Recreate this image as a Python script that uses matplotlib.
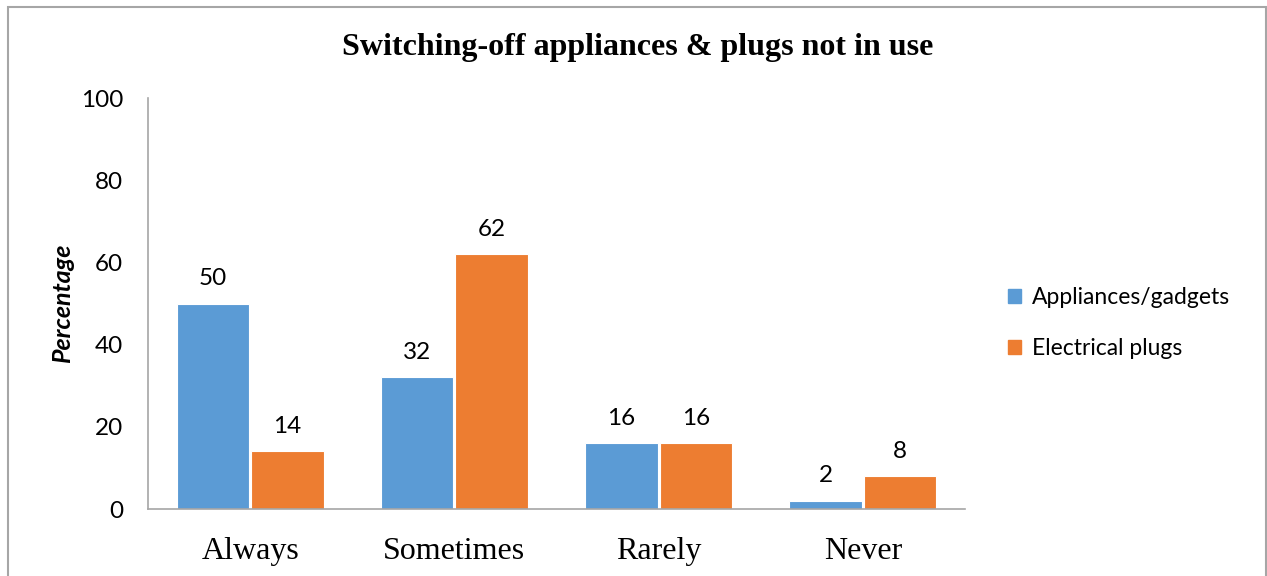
import matplotlib
matplotlib.use("Agg")
import numpy as np
import matplotlib.pyplot as plt
from matplotlib.patches import Rectangle, Patch

# Survey responses (percent)
categories = ["Always", "Sometimes", "Rarely", "Never"]
appliances = [50, 32, 16, 2]
plugs = [14, 62, 16, 8]
series_names = ["Appliances/gadgets", "Electrical plugs"]
yticks = [0, 20, 40, 60, 80, 100]

blue = "#5b9bd5"
orange = "#ed7d31"
sans = "Lato"
serif = "Liberation Serif"

fig = plt.figure(figsize=(12.67, 5.76), dpi=100)
ax = fig.add_axes([148 / 1267, 1 - 509 / 576, (965 - 148) / 1267, (509 - 98) / 576])

x = np.arange(len(categories))
w = 0.355
b1 = ax.bar(x - w / 2 - 0.005, appliances, w, color=blue, edgecolor="white", linewidth=0.8)
b2 = ax.bar(x + w / 2 + 0.005, plugs, w, color=orange, edgecolor="white", linewidth=0.8)

for bars, vals in ((b1, appliances), (b2, plugs)):
    for rect, v in zip(bars, vals):
        ax.text(rect.get_x() + rect.get_width() / 2, v + 3.5, str(v),
                ha="center", va="bottom", fontsize=17.5, family=sans)

ax.set_xlim(-0.5, len(categories) - 0.5)
ax.set_ylim(0, 100)
ax.set_yticks(yticks)
ax.set_xticks(x)
ax.set_xticklabels(categories, fontsize=23, family=serif)
for lbl in ax.get_yticklabels():
    lbl.set_fontsize(17.5)
    lbl.set_family(sans)
ax.tick_params(axis="both", length=0)
ax.tick_params(axis="y", pad=18)
ax.tick_params(axis="x", pad=20)

for s in ("top", "right"):
    ax.spines[s].set_visible(False)
for s in ("left", "bottom"):
    ax.spines[s].set_color("#a6a6a6")
    ax.spines[s].set_linewidth(1.2)

ax.set_ylabel("Percentage", fontsize=18, family=sans, fontweight="bold",
              style="italic")
ax.yaxis.set_label_coords(-(148 - 74) / 817, 0.5)

fig.text(638 / 1267, 1 - 47 / 576, "Switching-off appliances & plugs not in use",
         ha="center", va="center", fontsize=23, fontweight="bold", family=serif)

handles = [Patch(color=blue), Patch(color=orange)]
fig.legend(handles, series_names, loc="center left",
           bbox_to_anchor=(987 / 1267, 1 - 323 / 576), frameon=False,
           prop={"family": sans, "size": 16.5}, handlelength=0.6, handleheight=0.6,
           handletextpad=0.45, labelspacing=1.3)

# thin frame around the whole chart area
fig.patches.append(Rectangle((8 / 1267, -0.02), 1258 / 1267, 1.02 - 7 / 576,
                             transform=fig.transFigure, fill=False,
                             edgecolor="#a6a6a6", linewidth=1.5))

fig.savefig("out.png", dpi=100, facecolor="white")
